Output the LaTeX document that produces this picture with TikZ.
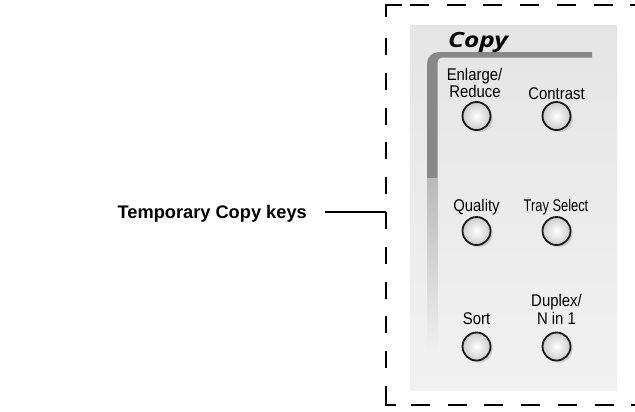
\documentclass[tikz,border=0pt]{standalone}
\usepackage{fontspec}
\setmainfont{Liberation Sans}
\newfontfamily\copyfont{Open Sans}
\usetikzlibrary{shadows}
\definecolor{bargray}{HTML}{888888}
\definecolor{paneltop}{HTML}{E4E5E4}
\definecolor{panelbot}{HTML}{F0F1F0}
\newcommand{\nar}[2][0.88]{\scalebox{#1}[1]{#2}}
\tikzset{
  dashline/.style={line width=2.8bp, dash pattern=on 19bp off 17.7bp},
  cornerline/.style={line width=2.8bp},
  btn/.style={circle, minimum size=28bp, inner sep=0pt, draw=black!90, line width=1.8bp,
    inner color=white, outer color=gray!40,
    circular drop shadow={shadow xshift=2.2bp, shadow yshift=-2.2bp, opacity=.35, shadow scale=1.02}},
  keylbl/.style={font=\fontsize{17}{17}\selectfont, inner sep=0pt, anchor=base},
  connector/.style={line width=2bp}
}
\begin{document}
\begin{tikzpicture}[x=1bp,y=-1bp]
\useasboundingbox (0,0) rectangle (635,411);
% panel
\shade[top color=paneltop, bottom color=panelbot] (410,25) rectangle (617,390);
% bar under "Copy"
\fill[bargray] (592,52) -- (439,52) .. controls (432,52) and (427,57) .. (427,64) -- (427,178)
  -- (437.5,178) -- (437.5,63) .. controls (437.5,59.5) and (439.5,57.5) .. (443,57.5) -- (592,57.5) -- cycle;
\shade[top color=gray!55, bottom color=panelbot] (427,178) rectangle (437.5,356);
% title
\node[font=\copyfont\bfseries\itshape\fontsize{21}{21}\selectfont, inner sep=0pt, anchor=base] (title) at (478,47) {\scalebox{1.25}[1]{Copy}};
% buttons
\node[btn] (b1) at (476.5,116) {};
\node[btn] (b2) at (556.5,116) {};
\node[btn] (b3) at (476.5,231) {};
\node[btn] (b4) at (556.5,231) {};
\node[btn] (b5) at (476.5,346.5) {};
\node[btn] (b6) at (556.5,346.5) {};
% key labels
\node[keylbl] (l1a) at (474.5,80.5) {\nar{Enlarge/}};
\node[keylbl] (l1b) at (475,97.5) {\nar{Reduce}};
\node[keylbl] (l2) at (556.5,99) {\nar{Contrast}};
\node[keylbl] (l3) at (476.5,211) {\nar{Quality}};
\node[keylbl] (l4) at (556,211) {\nar[0.76]{Tray Select}};
\node[keylbl] (l5) at (476.5,324) {\nar{Sort}};
\node[keylbl] (l6a) at (556.5,306) {\nar{Duplex/}};
\node[keylbl] (l6b) at (556.5,324) {\nar{N in 1}};
% dashed frame
\draw[cornerline] (402,5) -- (386,5) -- (386,17);
\draw[dashline] (410,5) -- (660,5);
\draw[dashline, dash pattern=on 17bp off 17.8bp] (386,38) -- (386,392);
\draw[cornerline] (386,392) -- (386,405) -- (396,405);
\draw[dashline] (411,405) -- (660,405);
% label and connector
\node[font=\bfseries\fontsize{18.3}{18.3}\selectfont, inner sep=0pt, anchor=base east] (tck) at (307,218.5) {Temporary Copy keys};
\coordinate (lineStart) at (325,212);
\coordinate (boxEdge) at (386,212);
\draw[connector] (lineStart) -- (boxEdge);
\end{tikzpicture}
\end{document}
